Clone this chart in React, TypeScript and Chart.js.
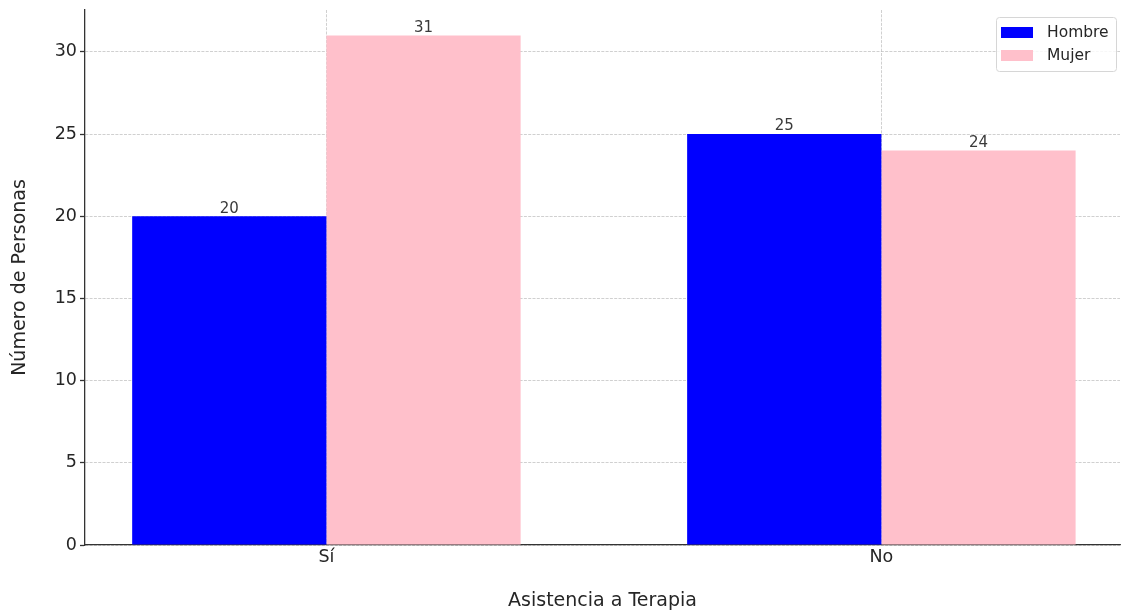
import React, { useEffect, useRef } from "react";
import { Chart, registerables } from "chart.js";

Chart.register(...registerables);

// Therapy attendance by gender
const categories = ["Sí", "No"];
const hombre = [20, 25];
const mujer = [31, 24];
const seriesLabels = ["Hombre", "Mujer"];
const seriesColors = ["#0000ff", "#ffc0cb"];
const yTicks = [0, 5, 10, 15, 20, 25, 30];

const FONT = "'DejaVu Sans', sans-serif";
const TEXT = "#262626";

// Value labels above every bar
const valueLabels = {
  id: "valueLabels",
  afterDatasetsDraw(chart: any) {
    const ctx = chart.ctx;
    ctx.save();
    ctx.font = `15px ${FONT}`;
    ctx.fillStyle = "#3a3a3a";
    ctx.textAlign = "center";
    ctx.textBaseline = "bottom";
    chart.data.datasets.forEach((ds: any, di: number) => {
      const meta = chart.getDatasetMeta(di);
      meta.data.forEach((bar: any, i: number) => {
        const v = ds.data[i].y;
        ctx.fillText(String(v), bar.x, bar.y);
      });
    });
    ctx.restore();
  },
};

// Framed legend in the upper-right corner of the plot area
const cornerLegend = {
  id: "cornerLegend",
  afterDraw(chart: any) {
    const ctx = chart.ctx;
    const area = chart.chartArea;
    const w = 120;
    const h = 54;
    const x = area.right - 4 - w;
    const y = area.top + 7;
    ctx.save();
    ctx.fillStyle = "rgba(255,255,255,0.85)";
    ctx.strokeStyle = "#d6d6d6";
    ctx.lineWidth = 1;
    ctx.beginPath();
    if (ctx.roundRect) ctx.roundRect(x + 0.5, y + 0.5, w, h, 3);
    else ctx.rect(x + 0.5, y + 0.5, w, h);
    ctx.fill();
    ctx.stroke();
    ctx.font = `15.5px ${FONT}`;
    ctx.textBaseline = "middle";
    ctx.textAlign = "left";
    chart.data.datasets.forEach((ds: any, i: number) => {
      const rowY = y + 15 + i * 23;
      ctx.fillStyle = ds.backgroundColor;
      ctx.fillRect(x + 5, rowY - 5, 32, 11);
      ctx.fillStyle = TEXT;
      ctx.fillText(ds.label, x + 51, rowY + 1);
    });
    ctx.restore();
  },
};

export default function App() {
  const canvasRef = useRef<HTMLCanvasElement | null>(null);

  useEffect(() => {
    document.body.style.margin = "0";
    const canvas = canvasRef.current;
    if (!canvas) return;

    const gridColor = "rgba(176,176,176,0.75)";

    const chart = new Chart(canvas, {
      type: "bar",
      data: {
        datasets: [hombre, mujer].map((vals, s) => ({
          label: seriesLabels[s],
          data: vals.map((v, i) => ({ x: i, y: v })),
          backgroundColor: seriesColors[s],
          borderWidth: 0,
          categoryPercentage: 0.7,
          barPercentage: 1.0,
        })),
      },
      options: {
        animation: false,
        responsive: true,
        maintainAspectRatio: false,
        layout: { padding: { top: 0, right: 1, left: 0, bottom: 0 } },
        plugins: {
          legend: { display: false },
          tooltip: { enabled: false },
        },
        scales: {
          x: {
            type: "linear",
            offset: false,
            min: -0.435,
            max: 1.43,
            z: 1,
            afterBuildTicks: (scale: any) => {
              scale.ticks = categories.map((_, i) => ({ value: i }));
            },
            afterFit: (scale: any) => {
              scale.height = 68;
            },
            ticks: {
              callback: (v: any) => categories[Number(v)] ?? "",
              font: { family: FONT, size: 17.5 },
              color: TEXT,
              padding: 2,
              maxRotation: 0,
            },
            grid: {
              offset: false,
              color: gridColor,
              lineWidth: 0.8,
              drawTicks: false,
            },
            border: { display: true, color: "#333", width: 1.3, dash: [3, 1.3] },
            title: {
              display: true,
              text: "Asistencia a Terapia",
              font: { family: FONT, size: 19 },
              color: TEXT,
              padding: { top: 1, bottom: 1 },
            },
          },
          y: {
            min: 0,
            max: 32.55,
            z: 1,
            afterBuildTicks: (scale: any) => {
              scale.ticks = yTicks.map((v) => ({ value: v }));
            },
            afterFit: (scale: any) => {
              scale.width = 85;
              scale.paddingTop = 10;
            },
            ticks: {
              font: { family: FONT, size: 17.5 },
              color: TEXT,
              padding: 3,
            },
            grid: {
              color: gridColor,
              lineWidth: 0.8,
              tickLength: 5,
              tickColor: "#333",
              tickWidth: 1.3,
              tickBorderDash: [],
            },
            border: { display: true, color: "#333", width: 1.3, dash: [3, 1.3] },
            title: {
              display: true,
              text: "Número de Personas",
              font: { family: FONT, size: 19 },
              color: TEXT,
              padding: { top: 9, bottom: 9 },
            },
          },
        },
      },
      plugins: [valueLabels, cornerLegend],
    } as any);

    return () => chart.destroy();
  }, []);

  return (
    <div style={{ width: 1121, height: 613, position: "relative" }}>
      <canvas ref={canvasRef} />
    </div>
  );
}
